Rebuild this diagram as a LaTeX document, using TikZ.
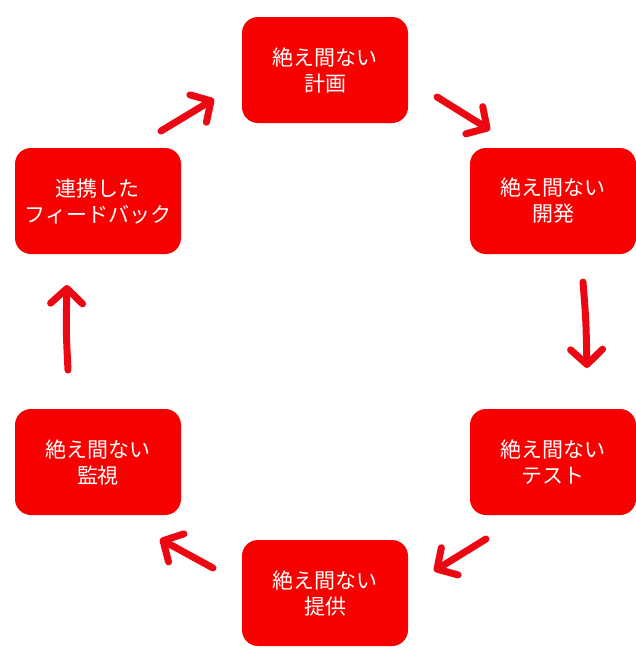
\documentclass[tikz,border=0pt]{standalone}
\usepackage{fontspec}
\newfontfamily\jp{Noto Sans CJK JP}
\usetikzlibrary{arrows.meta}
\definecolor{boxred}{RGB}{248,0,0}
\definecolor{arrred}{RGB}{236,8,18}
\tikzset{
  stage/.style={fill=boxred, rounded corners=16pt, minimum width=166pt, minimum height=106pt,
    text=white, align=center, font=\jp\fontsize{21pt}{26pt}\selectfont, inner sep=0pt},
  flow/.style={draw=arrred, line width=7pt, line cap=round,
    -{Straight Barb[length=15pt, width=32pt, line width=7pt, round]}}
}
\begin{document}
\begin{tikzpicture}[x=1pt, y=-1pt]
\useasboundingbox (0,0) rectangle (636,649);
\node[stage] (plan) at (325,70) {絶え間ない\\計画};
\node[stage] (dev) at (553,201) {絶え間ない\\開発};
\node[stage] (test) at (553,462) {絶え間ない\\テスト};
\node[stage] (deliv) at (325,593) {絶え間ない\\提供};
\node[stage] (mon) at (98,462) {絶え間ない\\監視};
\node[stage] (fb) at (98,201) {連携した\\フィードバック};
\coordinate (a1s) at (161,131); \coordinate (a1e) at (214,99);
\coordinate (a2s) at (437,97); \coordinate (a2e) at (490,130);
\coordinate (a3s) at (583,282); \coordinate (a3e) at (587,368);
\coordinate (a4s) at (486,539); \coordinate (a4e) at (434,571);
\coordinate (a5s) at (213,568); \coordinate (a5e) at (160,539);
\coordinate (a6s) at (68,370); \coordinate (a6e) at (67,285);
\draw[flow] (a1s) -- (a1e);
\draw[flow] (a2s) -- (a2e);
\draw[flow] (a3s) .. controls (586,320) .. (a3e);
\draw[flow] (a4s) -- (a4e);
\draw[flow] (a5s) -- (a5e);
\draw[flow] (a6s) .. controls (66,330) .. (a6e);
\end{tikzpicture}
\end{document}
